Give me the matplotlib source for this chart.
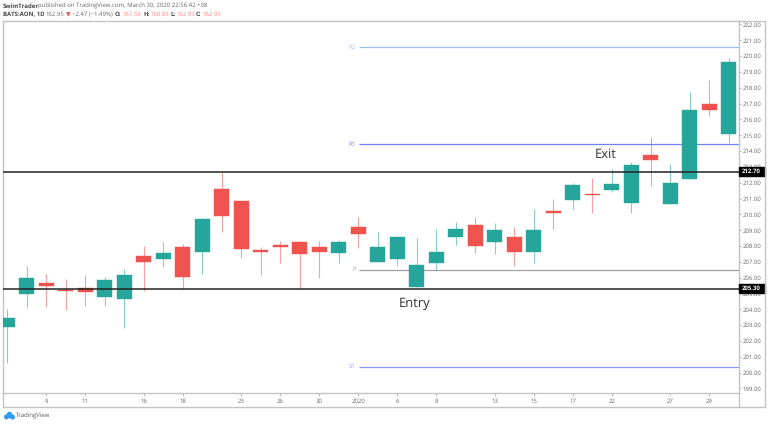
import matplotlib
matplotlib.use("Agg")
import matplotlib.pyplot as plt
from matplotlib.patches import Rectangle, Ellipse
from matplotlib.lines import Line2D

plt.rcParams["font.family"] = ["Open Sans", "DejaVu Sans"]
plt.rcParams["text.hinting"] = "no_hinting"
plt.rcParams["text.hinting_factor"] = 1

# candles: body open/close and wick high/low
opens = [202.86, 204.98, 205.68, 205.24, 205.36, 204.75, 204.63, 207.36, 207.20, 207.95,
         207.60, 211.58, 210.85, 207.77, 208.06, 208.27, 207.93, 207.55, 209.20, 206.99,
         207.20, 205.43, 206.92, 208.57, 209.35, 208.27, 208.59, 207.64, 210.21, 210.89,
         211.31, 211.52, 210.70, 213.73, 210.63, 212.24, 217.00, 215.06]
closes = [203.42, 205.95, 205.47, 205.13, 205.11, 205.87, 206.14, 206.99, 207.58, 206.02,
          209.70, 209.91, 207.79, 207.64, 207.93, 207.47, 207.60, 208.27, 208.76, 207.93,
          208.55, 206.77, 207.64, 209.07, 208.02, 209.03, 207.64, 209.01, 210.08, 211.86,
          211.25, 211.90, 213.12, 213.42, 211.96, 216.58, 216.58, 219.63]
highs = [204.01, 206.75, 206.25, 205.91, 206.18, 206.06, 206.54, 207.98, 208.27, 208.10,
         209.79, 212.70, 210.85, 207.95, 208.29, 208.33, 208.33, 208.40, 209.85, 208.88,
         208.55, 208.48, 209.07, 209.51, 209.81, 209.43, 209.22, 210.32, 210.97, 211.98,
         212.30, 212.85, 213.29, 214.87, 213.20, 217.71, 218.47, 219.86]
lows = [200.58, 204.06, 204.12, 203.95, 204.18, 204.20, 202.81, 205.17, 206.65, 205.26,
        206.25, 208.90, 207.24, 206.18, 206.90, 205.34, 205.95, 206.94, 207.87, 206.99,
        206.75, 205.43, 206.50, 208.06, 207.53, 207.49, 206.71, 206.92, 209.07, 210.34,
        210.10, 211.39, 210.10, 211.82, 210.63, 212.24, 216.24, 214.53]

date_pos = [2, 4, 7, 9, 12, 14, 16, 18, 20, 22, 25, 27, 29, 31, 34, 36]
date_labels = ["9", "11", "16", "18", "23", "26", "30", "2020", "6", "8", "13", "15", "17", "22", "27", "29"]
price_ticks = list(range(199, 223))

pivot_names = ["R2", "R1", "P", "S1"]
pivot_values = [220.56, 214.43, 206.50, 200.37]
pivot_colors = ["#9dc0f0", "#6f80f5", "#a0a0a0", "#8c9af8"]

entry_price = 205.30
exit_price = 212.70

UP = "#26a69a"
DOWN = "#ef5350"
W, H = 768, 425


def fx(px):
    return px / W


def fy(py):
    return 1 - py / H


fig = plt.figure(figsize=(7.68, 4.25), dpi=100)
ax = fig.add_axes([fx(3), fy(393.3), fx(736), (393.3 - 20.7) / H])
ax.set_xlim(-0.22, 37.52)
ax.set_ylim(198.69, 222.24)

for i in range(len(opens)):
    col = UP if closes[i] >= opens[i] else DOWN
    ax.vlines(i, lows[i], highs[i], color=col, alpha=0.55, lw=0.8, zorder=2)
    ax.bar(i, closes[i] - opens[i], bottom=opens[i], width=0.76, color=col,
           edgecolor=col, linewidth=0.3, zorder=3)

# pivots
for name, val, col in zip(pivot_names, pivot_values, pivot_colors):
    ax.hlines(val, 18.02, 37.52, color=col, lw=0.9, zorder=1)
    ax.text(17.86, val, name, color=col, fontsize=4.6, ha="right", va="center")

for price in [entry_price, exit_price]:
    ax.axhline(price, color="#222222", lw=1.1, zorder=4)
    tr = ax.get_yaxis_transform()
    ax.add_patch(Rectangle((1.0, price - 0.27), 25.5 / 736, 0.54, transform=tr, color="black",
                           clip_on=False, zorder=10))
    ax.text(1.017, price, "%.2f" % price, transform=tr, color="white", fontsize=4.2,
            va="center", ha="center", fontweight="bold", clip_on=False, zorder=11)

ax.text(30.66, 213.78, "Exit", fontsize=9.2, color="#333333", ha="center", va="center")
ax.text(20.9, 204.35, "Entry", fontsize=9.2, color="#333333", ha="center", va="center")

ax.yaxis.tick_right()
ax.set_yticks(price_ticks)
ax.set_yticklabels(["%.2f" % p for p in price_ticks])
ax.set_xticks(date_pos)
ax.set_xticklabels(date_labels)
ax.tick_params(axis="y", length=1.5, width=0.5, color="#999999", labelsize=4.3, labelcolor="#666666", pad=1)
ax.tick_params(axis="x", length=1.8, width=0.5, color="#999999", labelsize=4.4, labelcolor="#666666", pad=2.2)
for s in ax.spines.values():
    s.set_color("#c4c4c4")
    s.set_linewidth(1.0)

# outer frame of the widget
for xs, ys in [((3, 3), (393, 407.3)), ((3, 764.7), (407.3, 407.3)), ((764.7, 764.7), (20.7, 407.3)),
               ((739, 764.7), (20.7, 20.7)), ((739, 739), (393, 407.3))]:
    fig.add_artist(Line2D([fx(x) for x in xs], [fy(y) for y in ys], color="#c4c4c4", lw=1.0))

# header
fig.text(fx(3), fy(6), "SwimTrader", fontsize=4.2, color="#444444", fontweight="bold", va="center")
fig.text(fx(38.5), fy(6), "published on TradingView.com, March 30, 2020 22:56:42 +08",
         fontsize=4.2, color="#666666", va="center")
fig.text(fx(3), fy(14.5), "BATS:AON, 1D", fontsize=4.3, color="#444444", fontweight="bold", va="center")
fig.text(fx(45), fy(14.5), "162.95", fontsize=4.3, color="#666666", va="center")
fig.text(fx(65.5), fy(14.5), "▼", fontsize=4.2, color=DOWN, va="center", family="DejaVu Sans")
fig.text(fx(72), fy(14.5), "−2.47 (−1.49%)", fontsize=4.3, color="#666666", va="center")
header_x = [115, 143, 170, 196]
header_v = [122, 150, 176, 202]
for lab, val, x0, x1 in zip(["O:", "H:", "L:", "C:"], ["167.58", "168.83", "162.93", "162.95"], header_x, header_v):
    fig.text(fx(x0), fy(14.5), lab, fontsize=4.3, color="#444444", fontweight="bold", va="center")
    fig.text(fx(x1), fy(14.5), val, fontsize=4.3, color="#f58a88", va="center")

# TradingView logo
for cx, cy, w, h in [(6.5, 417, 5, 5), (9.5, 415, 6, 6.5), (12.5, 417, 5, 5)]:
    fig.add_artist(Ellipse((fx(cx), fy(cy)), fx(w), h / H, color="#2e9bf0", lw=0))
fig.text(fx(16), fy(416), "TradingView", fontsize=4.6, color="#555555", va="center")

fig.savefig("out.png", dpi=100)
